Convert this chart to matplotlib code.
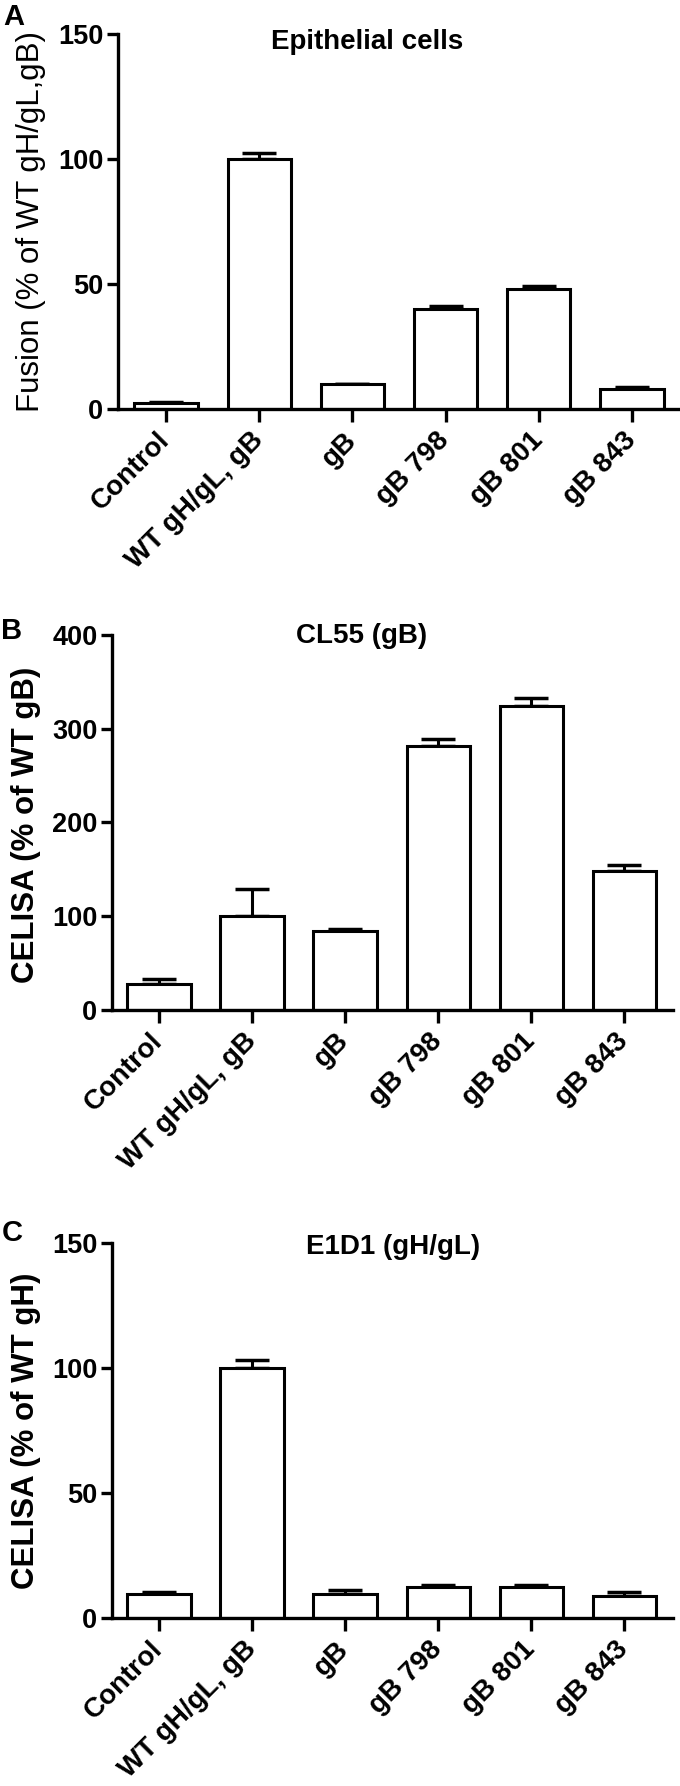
import numpy as np
import matplotlib
matplotlib.use("Agg")
import matplotlib.pyplot as plt

plt.rcParams['font.family'] = ['Liberation Sans', 'DejaVu Sans']

labels = ["Control", "WT gH/gL, gB", "gB", "gB 798", "gB 801", "gB 843"]

# panel A: fusion in epithelial cells
fusion = [2.5, 100, 10, 40.2, 48, 8.0]
fusion_err = [0.3, 2.4, 0.3, 1.1, 1.2, 0.8]

# panel B: CELISA with CL55 (gB)
cl55 = [28, 100, 84, 281.6, 324.5, 148.6]
cl55_err = [4.6, 29, 2, 7, 8.5, 6]

# panel C: CELISA with E1D1 (gH/gL)
e1d1 = [9.9, 100, 9.9, 12.6, 12.4, 9.0]
e1d1_err = [0.8, 3, 1.4, 0.8, 0.8, 1.5]

W, H = 680, 1786
fig = plt.figure(figsize=(W / 100, H / 100), dpi=100)


def px_axes(left, right, top, bottom):
    return fig.add_axes([left / W, 1 - bottom / H, (right - left) / W, (bottom - top) / H])


def draw_panel(ax, vals, errs, ymax, ystep, xlim):
    x = np.arange(len(vals))
    ax.bar(x, vals, width=0.68, color="white", edgecolor="black", linewidth=2.2, zorder=2)
    ax.errorbar(x, vals, yerr=[np.zeros(len(errs)), errs], fmt="none", ecolor="black",
                elinewidth=2.2, capsize=12.5, capthick=2.5, zorder=1)
    ax.set_xlim(*xlim)
    ax.set_ylim(0, ymax)
    ax.set_yticks(np.arange(0, ymax + 1, ystep))
    ax.set_xticks(x)
    ax.set_xticklabels(labels, rotation=45, ha="right", va="center", rotation_mode="anchor",
                       fontsize=20, fontweight="bold")
    for t in ax.get_yticklabels():
        t.set_fontweight("bold")
        t.set_fontsize(19.5)
    for s in ["top", "right"]:
        ax.spines[s].set_visible(False)
    for s in ["left", "bottom"]:
        ax.spines[s].set_linewidth(2.4)
    ax.tick_params(axis="y", length=7.7, width=2.4, pad=3)
    ax.tick_params(axis="x", length=9.6, width=2.4, pad=10)


axA = px_axes(118, 680, 34, 409.3)
draw_panel(axA, fusion, fusion_err, 150, 50, (-0.515, 5.515))
axB = px_axes(112.3, 673.3, 634.7, 1010)
draw_panel(axB, cl55, cl55_err, 400, 100, (-0.5, 5.525))
axC = px_axes(112.3, 673.3, 1242.7, 1618.3)
draw_panel(axC, e1d1, e1d1_err, 150, 50, (-0.5, 5.525))

# titles
fig.text(367 / W, 1 - 42 / H, "Epithelial cells", ha="center", va="center", fontsize=20, fontweight="bold")
fig.text(362 / W, 1 - 636 / H, "CL55 (gB)", ha="center", va="center", fontsize=20, fontweight="bold")
fig.text(393 / W, 1 - 1247 / H, "E1D1 (gH/gL)", ha="center", va="center", fontsize=20, fontweight="bold")

# y labels
fig.text(31 / W, 1 - 221 / H, "Fusion (% of WT gH/gL,gB)", rotation=90, ha="center", va="center", fontsize=22.5)
fig.text(26 / W, 1 - 825 / H, "CELISA (% of WT gB)", rotation=90, ha="center", va="center",
         fontsize=22.5, fontweight="bold")
fig.text(26 / W, 1 - 1431 / H, "CELISA (% of WT gH)", rotation=90, ha="center", va="center",
         fontsize=22.5, fontweight="bold")

# panel letters
fig.text(14 / W, 1 - 17 / H, "A", ha="center", va="center", fontsize=21, fontweight="bold")
fig.text(12 / W, 1 - 631 / H, "B", ha="center", va="center", fontsize=21, fontweight="bold")
fig.text(12 / W, 1 - 1233 / H, "C", ha="center", va="center", fontsize=21, fontweight="bold")

fig.savefig("out.png", dpi=100)
